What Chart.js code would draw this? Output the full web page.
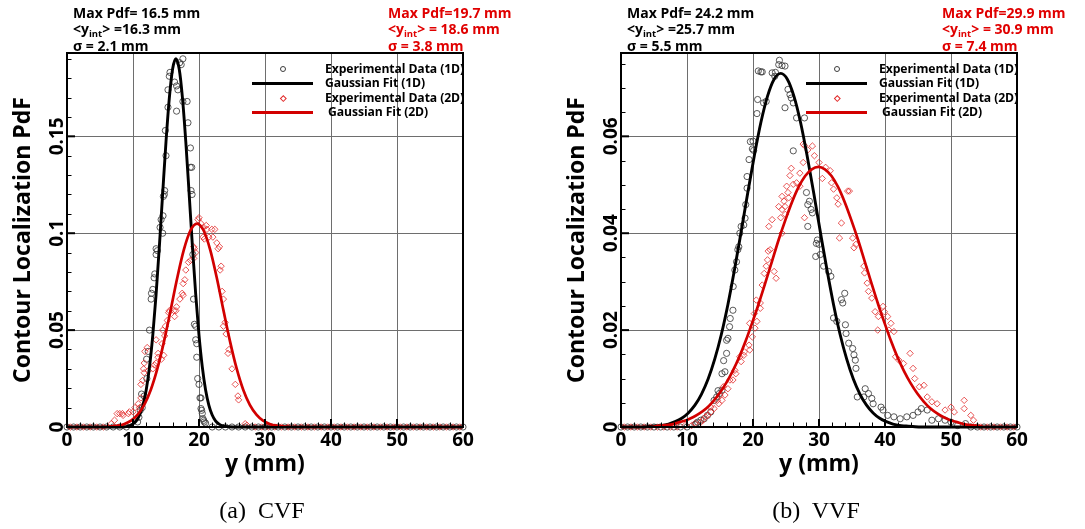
<!DOCTYPE html>
<html><head><meta charset="utf-8">
<script src="https://cdn.jsdelivr.net/npm/chart.js@4.4.1/dist/chart.umd.min.js"></script>
<style>
html,body{margin:0;padding:0;background:#fff;}
body{width:1085px;height:529px;position:relative;overflow:hidden;font-family:"Open Sans",sans-serif;}
.panel{position:absolute;top:0;height:529px;}
.panel canvas{position:absolute;left:0;top:0;}
.st{position:absolute;white-space:nowrap;font-weight:700;font-size:14px;line-height:16px;color:#000;}
.st.red{color:#e00000;}
.st sub{font-size:9.5px;vertical-align:-3px;line-height:0;}
.lg{position:absolute;white-space:nowrap;font-weight:700;font-size:12.2px;line-height:14px;color:#000;letter-spacing:-0.1px;}
.mk{position:absolute;box-sizing:border-box;}
.cap{position:absolute;white-space:pre;font-family:"Liberation Serif",serif;font-size:24px;line-height:24px;color:#000;width:300px;text-align:center;}
</style>
</head><body>
<script>
// ---------- DATA ----------
const xTickValues = [0, 10, 20, 30, 40, 50, 60];

const cvfYTicks = [0, 0.05, 0.1, 0.15];
const cvfYTickLabels = ['0', '0.05', '0.1', '0.15'];
const vvfYTicks = [0, 0.02, 0.04, 0.06];
const vvfYTickLabels = ['0', '0.02', '0.04', '0.06'];

// statistics printed above each panel: [Max Pdf, <y_int>, sigma] in mm
const cvfStats1D = [16.5, 16.3, 2.1];
const cvfStats2D = [19.7, 18.6, 3.8];
const vvfStats1D = [24.2, 25.7, 5.5];
const vvfStats2D = [29.9, 30.9, 7.4];

const legendLabels = ['Experimental Data (1D)', 'Gaussian Fit (1D)', 'Experimental Data (2D)', ' Gaussian Fit (2D)'];
const captions = ['(a)  CVF', '(b)  VVF'];

// (a) CVF - experimental points [y (mm), PdF]
const cvfExp1D = [[10.7,0.0026],[10.9,0.005],[11.1,0.0086],[11.3,0.017],[11.4,0.01],[11.7,0.016],[12.06,0.035],[12.1,0.025],[12.3,0.039],[12.5,0.05],[12.75,0.066],[12.8,0.069],[13.0,0.071],[13.2,0.077],[13.3,0.079],[13.5,0.089],[13.5,0.092],[13.7,0.091],[14.1,0.103],[14.26,0.107],[14.5,0.1],[14.55,0.109],[14.6,0.119],[14.75,0.12],[14.8,0.122],[14.9,0.153],[15.0,0.14],[15.3,0.165],[15.3,0.174],[15.5,0.181],[15.6,0.183],[16.3,0.178],[16.6,0.176],[16.6,0.163],[16.8,0.174],[17.07,0.188],[17.3,0.187],[17.56,0.19],[17.56,0.168],[18.2,0.168],[18.33,0.157],[18.68,0.134],[18.7,0.144],[18.8,0.122],[18.9,0.134],[18.95,0.12],[19.07,0.089],[19.17,0.066],[19.3,0.053],[19.5,0.045],[19.5,0.052],[19.66,0.043],[19.66,0.036],[19.8,0.025],[20.0,0.022],[20.15,0.015],[20.3,0.015],[20.3,0.0095],[20.4,0.0086],[20.5,0.007],[20.6,0.0043],[20.7,0.0034],[20.8,0.0026],[21.0,0.002]];
const cvfZero1DX = [0,1,2,3,4,5,6,7,8,9,22,23,24,25,26,27,28,29,30,31,32,33,34,35,36,37,38,39,40,41,42,43,44,45,46,47,48,49,50,51,52,53,54,55,56,57,58,59,60];
const cvfExp2D = [[6.7,0.0017],[7.2,0.0035],[7.6,0.0069],[8.0,0.0069],[8.4,0.0069],[8.5,0.006],[9.3,0.0069],[9.45,0.0078],[10.0,0.0078],[10.3,0.01],[10.8,0.012],[11.0,0.01],[11.2,0.015],[11.2,0.022],[11.45,0.024],[11.6,0.03],[11.7,0.033],[11.7,0.028],[11.8,0.039],[12.15,0.041],[12.3,0.029],[13.0,0.03],[13.25,0.032],[13.5,0.033],[13.5,0.045],[13.8,0.036],[13.8,0.038],[14.3,0.035],[14.4,0.043],[14.5,0.05],[14.65,0.037],[14.8,0.047],[14.9,0.052],[15.2,0.055],[15.4,0.059],[15.5,0.06],[16.2,0.06],[16.3,0.057],[16.5,0.06],[16.6,0.062],[17.1,0.066],[17.45,0.069],[17.6,0.068],[17.6,0.074],[17.85,0.076],[18.0,0.081],[18.4,0.085],[18.7,0.086],[19.2,0.087],[19.2,0.093],[19.3,0.092],[19.5,0.09],[19.85,0.107],[20.0,0.108],[20.3,0.105],[20.6,0.098],[20.7,0.103],[20.8,0.097],[21.1,0.104],[21.2,0.102],[21.5,0.098],[21.95,0.102],[22.1,0.098],[22.4,0.102],[22.7,0.095],[22.9,0.092],[23.1,0.093],[23.2,0.081],[23.35,0.083],[23.5,0.07],[23.7,0.066],[23.7,0.052],[23.95,0.054],[24.1,0.048],[24.4,0.038],[24.55,0.04],[25.0,0.03],[25.5,0.022],[25.9,0.016],[26.0,0.014],[27.0,0.0017],[27.25,0.0009]];
const cvfZero2DX = [0.5,1.5,2.5,3.5,4.5,5.5,28.5,29.5,30.5,31.5,32.5,33.5,34.5,35.5,36.5,37.5,38.5,39.5,40.5,41.5,42.5,43.5,44.5,45.5,46.5,47.5,48.5,49.5,50.5,51.5,52.5,53.5,54.5,55.5,56.5,57.5,58.5,59.5];
// (a) CVF - Gaussian fit curves
const cvfFit1D = [[0,0],[8.5,0],[9.5,0.0007],[10,0.0016],[10.5,0.0032],[11,0.0062],[11.5,0.0112],[12,0.0191],[12.5,0.031],[13,0.0474],[13.5,0.0685],[14,0.0935],[14.5,0.1207],[15,0.1472],[15.5,0.1696],[16,0.1847],[16.5,0.19],[17,0.1847],[17.5,0.1696],[18,0.1472],[18.5,0.1207],[19,0.0935],[19.5,0.0685],[20,0.0474],[20.5,0.031],[21,0.0191],[21.5,0.0112],[22,0.0062],[22.5,0.0032],[23,0.0016],[23.5,0.0007],[24.5,0.0001],[26,0],[60,0]];
const cvfFit2D = [[0,0],[5.5,0],[6.7,0.0003],[7.7,0.0007],[8.7,0.0016],[9.7,0.0033],[10.7,0.0064],[11.7,0.0114],[12.7,0.0192],[13.7,0.0302],[14.7,0.0442],[15.7,0.0603],[16.7,0.0769],[17.7,0.0914],[18.7,0.1014],[19.7,0.105],[20.7,0.1014],[21.7,0.0914],[22.7,0.0769],[23.7,0.0603],[24.7,0.0442],[25.7,0.0302],[26.7,0.0192],[27.7,0.0114],[28.7,0.0064],[29.7,0.0033],[30.7,0.0016],[31.7,0.0007],[32.7,0.0003],[34,0],[60,0]];

// (b) VVF - experimental points
const vvfExp1D = [[11.2,0.0005],[11.4,0.0007],[11.6,0.001],[12.1,0.0014],[12.6,0.0017],[13.1,0.0024],[13.6,0.0031],[14.1,0.0055],[14.5,0.0062],[14.7,0.0075],[14.9,0.0069],[15.3,0.011],[15.3,0.0076],[15.55,0.0137],[15.75,0.0114],[16.0,0.0152],[16.0,0.0179],[16.2,0.0183],[16.45,0.0207],[16.55,0.0224],[16.96,0.0241],[17.0,0.029],[17.25,0.0324],[17.5,0.0341],[17.7,0.0366],[17.85,0.0372],[18.0,0.04],[18.2,0.0414],[18.6,0.0417],[18.8,0.0431],[18.9,0.0459],[19.1,0.0493],[19.1,0.0517],[19.4,0.0552],[19.6,0.0589],[19.9,0.0574],[20.0,0.059],[20.1,0.0571],[20.6,0.0647],[20.7,0.0676],[20.8,0.0735],[21.2,0.0733],[21.4,0.0733],[21.6,0.0669],[22.0,0.0672],[22.9,0.0731],[23.3,0.0724],[23.4,0.0732],[23.9,0.0748],[24.0,0.0757],[24.4,0.0746],[24.85,0.0745],[24.85,0.0659],[25.3,0.0697],[25.6,0.0686],[25.8,0.0679],[26.1,0.0669],[26.1,0.057],[26.6,0.0638],[27.8,0.0638],[28.1,0.0484],[28.3,0.0459],[28.3,0.0414],[28.55,0.0466],[28.8,0.0449],[29.0,0.0442],[29.5,0.0352],[29.6,0.0379],[29.75,0.0386],[30.0,0.0377],[30.2,0.0356],[30.7,0.0332],[31.45,0.0321],[31.8,0.0311],[32.2,0.0225],[32.7,0.0218],[33.4,0.0263],[33.6,0.0256],[33.9,0.0276],[34.0,0.0211],[34.1,0.0193],[34.5,0.0173],[35.1,0.0162],[35.3,0.0149],[35.5,0.0138],[35.6,0.0121],[35.8,0.0062],[36.8,0.0062],[37.0,0.0079],[37.5,0.0069],[38.0,0.0059],[38.2,0.0048],[39.4,0.0041],[39.7,0.0035],[40.4,0.0024],[41.35,0.0021],[42.3,0.0017],[43.3,0.0021],[44.25,0.0024],[45.0,0.0031],[45.5,0.0038],[46.4,0.0035],[47.1,0.0014],[48.1,0.0017],[49.1,0.0014],[50.0,0.001],[51.0,0.0003],[52.2,0.0007]];
const vvfZero1DX = [0,1,2,3,4,5,6,7,8,9,10,53,54,55,56,57,58,59,60];
const vvfExp2D = [[9.7,0.0003],[10.7,0.0003],[11.2,0.0007],[12.1,0.001],[12.4,0.0014],[12.8,0.0021],[13.15,0.0024],[13.6,0.0031],[13.6,0.0041],[14.1,0.0038],[14.6,0.0055],[14.8,0.0048],[15.0,0.0066],[15.3,0.0055],[15.5,0.0083],[15.75,0.0066],[16.2,0.0079],[16.5,0.0097],[16.96,0.0097],[17.25,0.0117],[17.4,0.011],[18.0,0.0145],[18.2,0.0135],[18.6,0.0148],[18.7,0.0155],[19.4,0.0169],[19.5,0.0159],[19.5,0.0214],[19.9,0.0186],[20.2,0.0234],[20.3,0.0204],[20.5,0.0262],[20.6,0.0218],[21.1,0.0245],[21.1,0.0256],[21.4,0.0293],[21.7,0.0317],[22.0,0.0332],[22.2,0.0345],[22.3,0.0363],[22.4,0.0414],[22.6,0.0366],[22.9,0.0428],[23.2,0.0321],[23.5,0.0307],[23.9,0.0455],[24.2,0.0432],[24.4,0.0476],[24.4,0.04],[24.4,0.0449],[24.7,0.0466],[24.85,0.0455],[24.9,0.0439],[25.1,0.0497],[25.3,0.0484],[25.4,0.0473],[25.6,0.0519],[25.8,0.0534],[26.1,0.0501],[26.6,0.0504],[27.1,0.0524],[27.1,0.0497],[27.6,0.0546],[27.6,0.0584],[27.8,0.0581],[27.8,0.0432],[28.3,0.0572],[29.0,0.058],[29.3,0.056],[30.0,0.0546],[30.5,0.0513],[31.0,0.0536],[31.7,0.0529],[31.9,0.0504],[32.2,0.0491],[32.7,0.0473],[32.9,0.046],[33.1,0.039],[33.4,0.0421],[34.35,0.0487],[34.6,0.0487],[35.1,0.039],[35.3,0.037],[35.6,0.0377],[36.8,0.0332],[36.9,0.0318],[37.3,0.0297],[37.5,0.028],[38.0,0.0266],[38.5,0.0238],[38.9,0.02],[39.0,0.0228],[39.7,0.0249],[39.9,0.0238],[40.4,0.0228],[40.6,0.02],[40.9,0.0214],[41.35,0.0197],[41.6,0.0145],[42.1,0.0138],[42.8,0.0131],[43.8,0.0152],[44.25,0.0121],[44.5,0.01],[45.2,0.0083],[45.9,0.0086],[46.4,0.0062],[47.1,0.0052],[47.9,0.0048],[49.1,0.0035],[50.0,0.0041],[50.5,0.0031],[52.0,0.0055],[52.0,0.0038],[53.0,0.0024],[53.4,0.0014]];
const vvfZero2DX = [0.5,1.5,2.5,3.5,4.5,5.5,6.5,7.5,8.5,54.5,55.5,56.5,57.5,58.5,59.5];
// (b) VVF - Gaussian fit curves
const vvfFit1D = [[0,0],[3,0],[4.2,0.0001],[5.2,0.0002],[6.2,0.0003],[7.2,0.0006],[8.2,0.0011],[9.2,0.0018],[10.2,0.0029],[11.2,0.0045],[12.2,0.0068],[13.2,0.0099],[14.2,0.014],[15.2,0.0191],[16.2,0.0253],[17.2,0.0325],[18.2,0.0403],[19.2,0.0483],[20.2,0.056],[21.2,0.0629],[22.2,0.0683],[23.2,0.0718],[24.2,0.073],[25.2,0.0718],[26.2,0.0683],[27.2,0.0629],[28.2,0.056],[29.2,0.0483],[30.2,0.0403],[31.2,0.0325],[32.2,0.0253],[33.2,0.0191],[34.2,0.014],[35.2,0.0099],[36.2,0.0068],[37.2,0.0045],[38.2,0.0029],[39.2,0.0018],[40.2,0.0011],[41.2,0.0006],[42.2,0.0003],[43.2,0.0002],[44.2,0.0001],[45.5,0],[60,0]];
const vvfFit2D = [[0,0],[4.5,0],[5.9,0.0003],[6.9,0.0004],[7.9,0.0006],[8.9,0.001],[9.9,0.0014],[10.9,0.002],[11.9,0.0028],[12.9,0.0038],[13.9,0.0052],[14.9,0.0069],[15.9,0.009],[16.9,0.0115],[17.9,0.0144],[18.9,0.0178],[19.9,0.0216],[20.9,0.0256],[21.9,0.0299],[22.9,0.0343],[23.9,0.0387],[24.9,0.0427],[25.9,0.0464],[26.9,0.0495],[27.9,0.0518],[28.9,0.0532],[29.9,0.0537],[30.9,0.0532],[31.9,0.0518],[32.9,0.0495],[33.9,0.0464],[34.9,0.0427],[35.9,0.0387],[36.9,0.0343],[37.9,0.0299],[38.9,0.0256],[39.9,0.0216],[40.9,0.0178],[41.9,0.0144],[42.9,0.0115],[43.9,0.009],[44.9,0.0069],[45.9,0.0052],[46.9,0.0038],[47.9,0.0028],[48.9,0.002],[49.9,0.0014],[50.9,0.001],[51.9,0.0006],[52.9,0.0004],[53.9,0.0003],[55,0],[60,0]];

// ---------- STYLE ----------
const RED_LINE = '#d20000';
const RED_MARK = '#e22a2a';
const GRAY_MARK = '#3c3c3c';
const GRID = '#6e6e6e';
const FONT = '"Open Sans", sans-serif';

const toXY = pts => pts.map(p => ({x: p[0], y: p[1]}));
const zeroPts = xs => xs.map(v => ({x: v, y: 0}));

const frameTicks = {
  id: 'frameTicks',
  afterDatasetsDraw(chart, args, o) {
    const {ctx, chartArea: a} = chart;
    const xs = chart.scales.x, ys = chart.scales.y;
    const seg = (x1, y1, x2, y2, w) => { ctx.lineWidth = w; ctx.beginPath(); ctx.moveTo(x1, y1); ctx.lineTo(x2, y2); ctx.stroke(); };
    ctx.save();
    ctx.strokeStyle = '#000';
    for (let i = 0; i < o.xMajor.length - 1; i++) {
      const v0 = o.xMajor[i], v1 = o.xMajor[i + 1];
      for (let k = 1; k < o.xMinorPer; k++) {
        const px = Math.round(xs.getPixelForValue(v0 + (v1 - v0) * k / o.xMinorPer)) + 0.5;
        seg(px, a.bottom, px, a.bottom - 4.5, 1);
      }
    }
    o.xMajor.forEach(v => { const px = xs.getPixelForValue(v); seg(px, a.bottom, px, a.bottom - 8, 2); });
    const yStep = o.yMajor[1] - o.yMajor[0];
    const yMin = yStep / o.yMinorPer;
    for (let k = 1; k * yMin < ys.max - 1e-9; k++) {
      if (k % o.yMinorPer === 0) continue;
      const py = Math.round(ys.getPixelForValue(k * yMin)) + 0.5;
      seg(a.left, py, a.left + 4.5, py, 1);
    }
    o.yMajor.forEach(v => { const py = ys.getPixelForValue(v); seg(a.left, py, a.left + 8, py, 2); });
    ctx.lineWidth = 2;
    ctx.strokeRect(a.left, a.top, a.right - a.left, a.bottom - a.top);
    ctx.fillStyle = '#000';
    ctx.font = 'bold 19px ' + FONT;
    ctx.textAlign = 'center';
    ctx.textBaseline = 'alphabetic';
    o.yMajor.forEach((v, i) => {
      const py = ys.getPixelForValue(v);
      ctx.save();
      ctx.translate(a.left - 10.5, py);
      ctx.rotate(-Math.PI / 2);
      ctx.fillText(o.yLabels[i], 0, 6.8);
      ctx.restore();
    });
    ctx.restore();
  }
};

function makeChart(canvas, p) {
  return new Chart(canvas, {
    type: 'scatter',
    data: {datasets: [
      {label: legendLabels[3], data: toXY(p.fit2D), showLine: true, borderColor: RED_LINE, borderWidth: 2.7, pointRadius: 0, cubicInterpolationMode: 'monotone', order: 0, clip: false},
      {label: legendLabels[1], data: toXY(p.fit1D), showLine: true, borderColor: '#000', borderWidth: 2.9, pointRadius: 0, cubicInterpolationMode: 'monotone', order: 1, clip: false},
      {label: legendLabels[2], data: toXY(p.exp2D).concat(zeroPts(p.zero2D)), pointStyle: 'rectRot', pointRadius: 3.2, borderColor: RED_MARK, borderWidth: 0.8, backgroundColor: 'rgba(0,0,0,0)', order: 2, clip: false},
      {label: legendLabels[0], data: toXY(p.exp1D).concat(zeroPts(p.zero1D)), pointStyle: 'circle', pointRadius: 3.1, borderColor: GRAY_MARK, borderWidth: 0.85, backgroundColor: 'rgba(0,0,0,0)', order: 3, clip: false}
    ]},
    options: {
      responsive: false, animation: false, devicePixelRatio: 1, events: [],
      layout: {padding: {left: 0, top: 53, right: p.padRight, bottom: 0}},
      plugins: {
        legend: {display: false}, tooltip: {enabled: false},
        frameTicks: {xMajor: xTickValues, xMinorPer: 5, yMajor: p.yTicks, yLabels: p.yLabels, yMinorPer: p.yMinorPer}
      },
      scales: {
        x: {
          type: 'linear', min: 0, max: 60,
          afterBuildTicks: s => { s.ticks = xTickValues.map(v => ({value: v})); },
          afterFit: s => { s.height = 102; },
          grid: {color: GRID, lineWidth: 1, drawTicks: false},
          border: {display: false},
          ticks: {font: {family: FONT, weight: 'bold', size: 19}, color: '#000', padding: 2, maxRotation: 0, minRotation: 0, callback: v => String(v)},
          title: {display: true, text: 'y (mm)', color: '#000', font: {family: FONT, weight: 'bold', size: 23}, padding: {top: 0, bottom: 51}}
        },
        y: {
          type: 'linear', min: 0, max: p.yMax,
          afterBuildTicks: s => { s.ticks = p.yTicks.map(v => ({value: v})); },
          afterFit: s => { s.width = 67; },
          grid: {color: GRID, lineWidth: 1, drawTicks: false},
          border: {display: false},
          ticks: {display: false},
          title: {display: true, text: 'Contour Localization PdF', color: '#000', font: {family: FONT, weight: 'bold', size: 23}, padding: {top: 10, bottom: 0}}
        }
      }
    },
    plugins: [frameTicks]
  });
}

function addDiv(parent, cls, css, html) {
  const d = document.createElement('div');
  d.className = cls;
  Object.assign(d.style, css);
  d.innerHTML = html;
  parent.appendChild(d);
  return d;
}

function buildPanel(left, width, p) {
  const el = document.createElement('div');
  el.className = 'panel';
  el.style.left = left + 'px';
  el.style.width = width + 'px';
  document.body.appendChild(el);
  const cv = document.createElement('canvas');
  cv.width = width; cv.height = 529;
  cv.style.width = width + 'px'; cv.style.height = '529px';
  el.appendChild(cv);
  makeChart(cv, p);

  // statistics text
  const s1 = p.stats1D, s2 = p.stats2D;
  addDiv(el, 'st', {left: '73px', top: '5px'}, 'Max Pdf= ' + s1[0].toFixed(1) + ' mm');
  addDiv(el, 'st', {left: '73px', top: '21px'}, '&lt;y<sub>int</sub>&gt; =' + s1[1].toFixed(1) + ' mm');
  addDiv(el, 'st', {left: '73px', top: '37.5px'}, '&sigma; = ' + s1[2].toFixed(1) + ' mm');
  addDiv(el, 'st red', {left: '388px', top: '5px'}, 'Max Pdf=' + s2[0].toFixed(1) + ' mm');
  addDiv(el, 'st red', {left: '388px', top: '21px'}, '&lt;y<sub>int</sub>&gt; = ' + s2[1].toFixed(1) + ' mm');
  addDiv(el, 'st red', {left: '388px', top: '37.5px'}, '&sigma; = ' + s2[2].toFixed(1) + ' mm');

  // legend
  const rows = [69, 83, 98, 112.5];
  rows.forEach((cy, i) => {
    addDiv(el, 'lg', {left: '325px', top: (cy - 7.3) + 'px'}, legendLabels[i].replace(/ /g, '&nbsp;'));
  });
  addDiv(el, 'mk', {left: '280px', top: (rows[0] - 3) + 'px', width: '6.2px', height: '6.2px', border: '0.9px solid ' + GRAY_MARK, borderRadius: '50%'}, '');
  addDiv(el, 'mk', {left: '252px', top: (rows[1] - 1.5) + 'px', width: '61px', height: '3px', background: '#000'}, '');
  addDiv(el, 'mk', {left: '280.6px', top: (rows[2] - 2.4) + 'px', width: '4.6px', height: '4.6px', border: '0.8px solid ' + RED_MARK, transform: 'rotate(45deg)'}, '');
  addDiv(el, 'mk', {left: '252px', top: (rows[3] - 1.5) + 'px', width: '61px', height: '3px', background: RED_LINE}, '');

  // caption
  addDiv(el, 'cap', {left: (262 - 150) + 'px', top: '498px'}, p.caption);
}

buildPanel(0, 540, {
  exp1D: cvfExp1D, zero1D: cvfZero1DX, exp2D: cvfExp2D, zero2D: cvfZero2DX,
  fit1D: cvfFit1D, fit2D: cvfFit2D,
  yTicks: cvfYTicks, yLabels: cvfYTickLabels, yMinorPer: 5, yMax: 0.193,
  padRight: 77, stats1D: cvfStats1D, stats2D: cvfStats2D, caption: captions[0]
});
buildPanel(554, 531, {
  exp1D: vvfExp1D, zero1D: vvfZero1DX, exp2D: vvfExp2D, zero2D: vvfZero2DX,
  fit1D: vvfFit1D, fit2D: vvfFit2D,
  yTicks: vvfYTicks, yLabels: vvfYTickLabels, yMinorPer: 4, yMax: 0.0772,
  padRight: 68, stats1D: vvfStats1D, stats2D: vvfStats2D, caption: captions[1]
});
</script>
</body></html>
